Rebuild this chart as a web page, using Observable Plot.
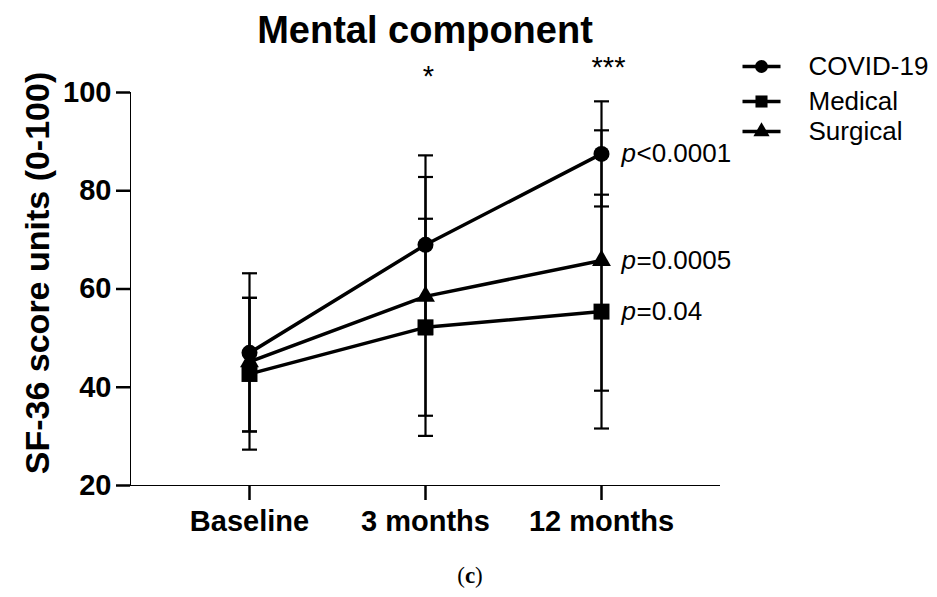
<!DOCTYPE html>
<html>
<head>
<meta charset="utf-8">
<script src="https://cdn.jsdelivr.net/npm/d3@7"></script>
<script src="https://cdn.jsdelivr.net/npm/@observablehq/plot@0.6"></script>
<style>
  html, body { margin: 0; padding: 0; background: #fff; }
  #wrap { width: 937px; position: relative; }
  svg [aria-label^="x-axis"] path, svg [aria-label^="y-axis"] path,
  svg [aria-label^="x-axis"] line, svg [aria-label^="y-axis"] line { stroke-width: 2.5px; stroke: #000; }
  #caption { width: 937px; height: 42px; text-align: center; font-family: "Liberation Serif", "DejaVu Serif", serif; font-size: 23px; line-height: 42px; color: #000; padding-left: 3px; box-sizing: border-box; }
</style>
</head>
<body>
<div id="wrap"></div>
<div id="caption">(<b>c</b>)</div>
<script>
const timepoints = ["Baseline", "3 months", "12 months"];
const seriesNames = ["COVID-19", "Medical", "Surgical"];
const seriesSymbols = ["circle", "square", "triangle"];

const covidMean = [47.0, 69.0, 87.5];
const covidLow  = [31.0, 50.8, 76.8];
const covidHigh = [63.2, 87.2, 98.2];

const medicalMean = [42.7, 52.2, 55.4];
const medicalLow  = [27.3, 30.1, 31.6];
const medicalHigh = [58.2, 74.3, 79.2];

const surgicalMean = [45.2, 58.5, 65.8];
const surgicalLow  = [31.0, 34.2, 39.3];
const surgicalHigh = [58.2, 82.8, 92.3];

const pLabels = ["<0.0001", "=0.04", "=0.0005"];
const significance = ["", "*", "***"];
const yTicks = [20, 40, 60, 80, 100];

const means = [covidMean, medicalMean, surgicalMean];
const lows = [covidLow, medicalLow, surgicalLow];
const highs = [covidHigh, medicalHigh, surgicalHigh];

const rows = [];
seriesNames.forEach((s, si) => {
  timepoints.forEach((t, ti) => {
    rows.push({series: s, symbol: seriesSymbols[si], time: t, mean: means[si][ti], low: lows[si][ti], high: highs[si][ti]});
  });
});
const lastRows = rows.filter(d => d.time === timepoints[timepoints.length - 1])
  .map(d => ({...d, p: pLabels[seriesNames.indexOf(d.series)]}));
const sigRows = timepoints.map((t, i) => ({time: t, label: significance[i]})).filter(d => d.label);

// custom horizontal cap / legend-line symbol
const hbar = {draw(context, size) { const w = Math.sqrt(size / Math.PI); context.moveTo(-w, 0); context.lineTo(w, 0); }};

const font = "'Liberation Sans', Arial, Helvetica, sans-serif";

const markerR = {circle: 8, square: 9, triangle: 7};
const legendR = {circle: 6.5, square: 6.8, triangle: 6};

const legendMarks = seriesNames.flatMap((s, i) => {
  const dy = [-26, 9, 39][i];
  return [
    Plot.dot([s], {frameAnchor: "top-right", dx: 42, dy, symbol: hbar, r: 19, stroke: "black", strokeWidth: 3.5, fill: "none"}),
    Plot.dot([s], {frameAnchor: "top-right", dx: 42, dy, symbol: seriesSymbols[i], r: legendR[seriesSymbols[i]], fill: "black", stroke: "none"}),
    Plot.text([s], {frameAnchor: "top-right", dx: 89, dy, text: d => d, textAnchor: "start", lineAnchor: "middle", fontSize: 26, fontWeight: "normal"})
  ];
});

const sigMarks = sigRows.map((d, i) => Plot.text([d], {
  x: "time", frameAnchor: "top", text: "label", lineAnchor: "middle",
  dx: [3, 7][i], dy: [-16, -25][i], fontSize: 29, fontWeight: "normal"
}));

const chart = Plot.plot({
  width: 937,
  height: 555,
  marginLeft: 130,
  marginRight: 218,
  marginTop: 92,
  marginBottom: 70,
  style: {fontFamily: font, fontSize: "29px", fontWeight: "bold", color: "black", background: "white", overflow: "visible"},
  x: {type: "point", domain: timepoints, padding: 2 / 3, label: null, tickSize: 15, tickPadding: 10, line: true},
  y: {domain: [20, 100], ticks: yTicks, tickSize: 14, tickPadding: 5, label: null, line: true, tickFormat: d => d},
  marks: [
    Plot.line(rows, {x: "time", y: "mean", z: "series", stroke: "black", strokeWidth: 3.5}),
    Plot.ruleX(rows, {x: "time", y1: "low", y2: "high", stroke: "black", strokeWidth: 2.2}),
    Plot.dot(rows, {x: "time", y: "low", symbol: hbar, r: 7.5, stroke: "black", strokeWidth: 2.2, fill: "none"}),
    Plot.dot(rows, {x: "time", y: "high", symbol: hbar, r: 7.5, stroke: "black", strokeWidth: 2.2, fill: "none"}),
    ...seriesSymbols.map(sym => Plot.dot(rows.filter(d => d.symbol === sym), {x: "time", y: "mean", symbol: sym, r: markerR[sym], fill: "black", stroke: "none"})),
    Plot.text(lastRows, {x: "time", y: "mean", text: () => "p", dx: 20, textAnchor: "start", fontSize: 26, fontWeight: "normal", fontStyle: "italic"}),
    Plot.text(lastRows, {x: "time", y: "mean", text: "p", dx: 35, textAnchor: "start", fontSize: 26, fontWeight: "normal"}),
    ...sigMarks,
    Plot.text(["Mental component"], {frameAnchor: "top", text: d => d, lineAnchor: "middle", dy: -62, fontSize: 38, fontWeight: "bold"}),
    Plot.text(["SF-36 score units (0-100)"], {frameAnchor: "left", text: d => d, textAnchor: "middle", lineAnchor: "middle", rotate: -90, dx: -92, dy: -16, fontSize: 34, fontWeight: "bold"}),
    ...legendMarks
  ]
});
document.getElementById("wrap").appendChild(chart);
</script>
</body>
</html>
